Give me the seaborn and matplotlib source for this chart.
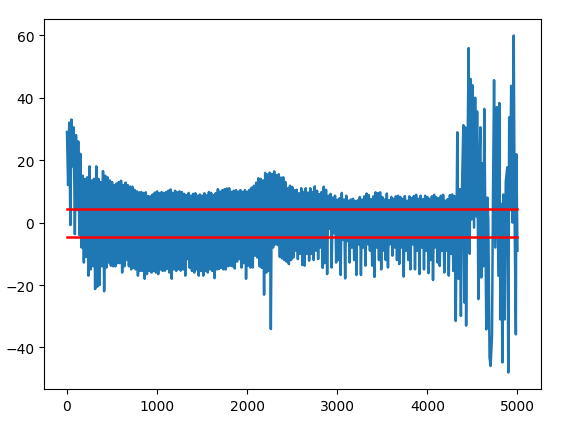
import numpy as np
import matplotlib
matplotlib.use('Agg')
import matplotlib.pyplot as plt
import seaborn as sns

# Peaks and troughs, one pair every 25 samples
step = 25
peaks = [
    29, 32, 33, 30.5, 28, 26, 22, 15, 14, 14.5, 18, 13.5, 14, 18, 14, 13, 16.5, 15, 14.5, 13.5,
    13, 12, 12.5, 13, 13.4, 12, 12.8, 12, 11.5, 11.5, 10.5, 10, 9.7, 9.8, 9.5, 9.7, 8.5, 8.4, 9, 9.6,
    10, 9.4, 9.8, 9.5, 9.8, 10.2, 10.6, 9.5, 10.2, 9.7, 10, 9.8, 9.2, 8.8, 9.5, 8.6, 9.2, 9.4, 8.6, 9,
    8.6, 9.4, 8.7, 9.8, 9.5, 8.8, 9.4, 10.7, 9.9, 10.4, 10.7, 10.9, 11, 9.8, 10.2, 10.4, 9.9, 10.4, 9.8, 10.4,
    9.9, 10.5, 11.2, 11.8, 12.8, 14.2, 14, 13.5, 15.9, 15.4, 16, 15.6, 16.4, 15.2, 15.5, 14.4, 14.5, 13, 11, 11.8,
    11.4, 10.4, 10.5, 9.4, 11, 9.8, 11, 9.6, 11, 9.8, 11.6, 10.2, 9.1, 9.8, 11.5, 10.5, 8.6, 9.2, 8, 8.6,
    7.3, 7.8, 9.5, 7.4, 8.6, 7, 7.4, 7.6, 6.9, 7.1, 8.2, 7.4, 8.4, 9.3, 8.8, 7.5, 8.4, 9.7, 9.4, 9.7,
    8.2, 7.4, 9.3, 7.2, 8.2, 7.6, 8.4, 8.6, 8.2, 7.6, 8.5, 7, 8.4, 7.8, 8.5, 8.9, 7.6, 8.6, 7.5, 8.6,
    8.2, 7.6, 8.4, 8.9, 8.1, 7.8, 8.6, 8.9, 7, 7.5, 8.8, 9,
]
troughs = [
    12, -0.8, 18, -3.7, 4, -4, -8, -12.8, -11, -17, -15, -14, -21.3, -20.5, -20, -14, -22, -14.4, -12.8, -13.8,
    -14, -14, -13, -13, -16, -14, -12, -14, -15, -14.5, -15, -17, -15.5, -15.5, -18, -16.5, -15.5, -16, -15.5, -16,
    -16.5, -15, -15.5, -15.4, -14.8, -16, -18, -15, -15.5, -14.9, -15.4, -15, -17, -11.7, -14.5, -15.5, -16, -15, -17, -15.5,
    -17, -15.5, -16, -15, -15.5, -17.8, -15, -14.9, -14.5, -15, -15, -14, -13.8, -14, -14.7, -12.5, -11.7, -14.4, -13, -18,
    -13.8, -14.4, -14.4, -10.6, -11.2, -14, -14.5, -23.1, -16, -15.5, -34.1, -8, -7, -7.2, -11, -11.5, -12, -12.5, -13.3, -12,
    -11.2, -9, -11.7, -10, -13.6, -13.8, -10, -12.2, -10, -12, -9, -11.7, -8, -14.5, -13, -16.5, -2, -14.4, -3.4, -12.8,
    -12, -16.8, -5.5, -17.9, -6, -12.8, -8, -12, -16.8, -7, -16.8, -8, -13.8, -7, -9, -13.8, -17.4, -8, -12, -15,
    -9, -12, -14.4, -7, -10.6, -8, -12, -13.3, -8, -17.3, -9, -12, -15, -7, -15, -9, -16.5, -8, -15, -9,
    -16.2, -12, -18.4, -8, -12.8, -13.9, -9, -16, -9, -17, -10, -15.5,
]

# The slow part at the end, point by point
tail_x = [4300, 4315, 4332, 4345, 4360, 4372, 4385, 4399, 4410, 4420, 4430, 4442, 4458, 4470, 4480, 4490,
          4500, 4518, 4530, 4540, 4552, 4566, 4578, 4588, 4598, 4610, 4620, 4632, 4654, 4666, 4676, 4690,
          4702, 4717, 4728, 4740, 4754, 4770, 4788, 4798, 4810, 4822, 4832, 4843, 4858, 4870, 4887, 4898,
          4908, 4917, 4930, 4945, 4958, 4970, 4982, 4987, 5000]
tail_y = [8.5, -31.5, 28.9, -18, 10.7, -29.9, 12, 31.2, -25.6, 30.5, -33, 12, 55.9, -10, 46, 1,
          44, -1.6, 40, 2, 35.6, -24.5, 19, 30.5, -17.6, 19, -14, 36.4, -34.2, 8, 0.6, -43.2,
          -45.9, -36.3, 8, 45.6, -8, 37, -17, 38.3, -31, 6, -44.8, 9, -31, 13, 17.7, -48,
          33.7, 4, 43.8, 0, 59.9, -4, -35.8, 21.9, -9]

limit = 4.5
red_x = [0, 5000]

dense_x = np.arange(len(peaks)) * step
x = np.concatenate([np.column_stack([dense_x, dense_x + step / 2]).ravel(), tail_x])
y = np.concatenate([np.column_stack([peaks, troughs]).ravel(), tail_y])

fig, ax = plt.subplots(figsize=(5.71, 4.31), dpi=100)
fig.subplots_adjust(left=44 / 571, right=541 / 571, top=1 - 20 / 431, bottom=1 - 390 / 431)

sns.lineplot(x=x, y=y, estimator=None, sort=False, color='#1f77b4', linewidth=1.8, ax=ax)
sns.lineplot(x=red_x, y=[limit, limit], estimator=None, color='red', linewidth=1.8, ax=ax)
sns.lineplot(x=red_x, y=[-limit, -limit], estimator=None, color='red', linewidth=1.8, ax=ax)

ax.set_xlim(-255, 5261)
ax.set_ylim(-53.3, 65.2)
ax.set_xticks([0, 1000, 2000, 3000, 4000, 5000])
ax.set_yticks([-40, -20, 0, 20, 40, 60])

plt.savefig('out.png')
